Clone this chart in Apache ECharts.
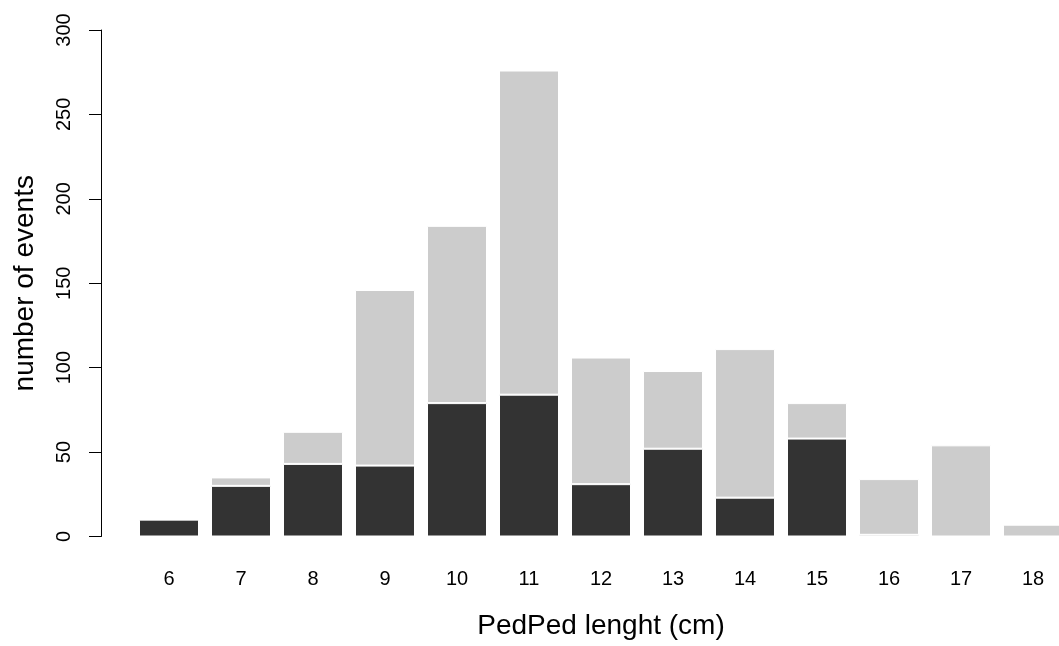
<!DOCTYPE html>
<html>
<head>
<meta charset="utf-8">
<script src="https://cdn.jsdelivr.net/npm/echarts@6/dist/echarts.min.js"></script>
<style>
  html, body { margin: 0; padding: 0; background: #fff; }
  #chart { width: 1059px; height: 646px; }
</style>
</head>
<body>
<div id="chart"></div>
<script>
var lengths = ['6', '7', '8', '9', '10', '11', '12', '13', '14', '15', '16', '17', '18']
// lower (dark) part of each stack
var darkCounts = [10, 30, 43, 42, 79, 84, 31, 52, 23, 58, 1, 0, 0]
// upper (light) part of each stack
var lightCounts = [0, 5, 19, 104, 105, 192, 75, 46, 88, 21, 33, 54, 7]
var yTicks = [0, 50, 100, 150, 200, 250, 300]

var font = '"Liberation Sans", Arial, sans-serif'

function barSeries(name, values, color) {
  return {
    name: name,
    type: 'bar',
    stack: 'events',
    barWidth: 60,
    data: values,
    itemStyle: {color: color, borderColor: '#fff', borderWidth: 1},
    emphasis: {disabled: true}
  }
}

var chart = echarts.init(document.getElementById('chart'))
chart.setOption({
  animation: false,
  backgroundColor: '#fff',
  // last bar runs past the right edge, as in the original
  grid: {left: 133, width: 936, top: 30, height: 506.5, outerBoundsMode: 'none'},
  xAxis: {
    type: 'category',
    data: lengths,
    name: 'PedPed lenght (cm)',
    nameLocation: 'middle',
    nameGap: 76,
    nameTextStyle: {fontFamily: font, fontSize: 28, color: '#000'},
    axisLine: {show: false},
    axisTick: {show: false},
    axisLabel: {fontFamily: font, fontSize: 20, color: '#000', margin: 33}
  },
  yAxis: {
    type: 'value',
    min: yTicks[0],
    max: yTicks[yTicks.length - 1],
    interval: yTicks[1] - yTicks[0],
    offset: 32,
    name: 'number of events',
    nameLocation: 'middle',
    nameGap: 62,
    nameRotate: 90,
    nameTextStyle: {fontFamily: font, fontSize: 28, color: '#000'},
    axisLine: {show: true, lineStyle: {color: '#000', width: 1}},
    axisTick: {show: true, length: 12, lineStyle: {color: '#000'}},
    axisLabel: {fontFamily: font, fontSize: 20, color: '#000', rotate: 90, margin: 27},
    splitLine: {show: false}
  },
  series: [
    barSeries('dark', darkCounts, '#333333'),
    barSeries('light', lightCounts, '#cccccc')
  ]
})
</script>
</body>
</html>
